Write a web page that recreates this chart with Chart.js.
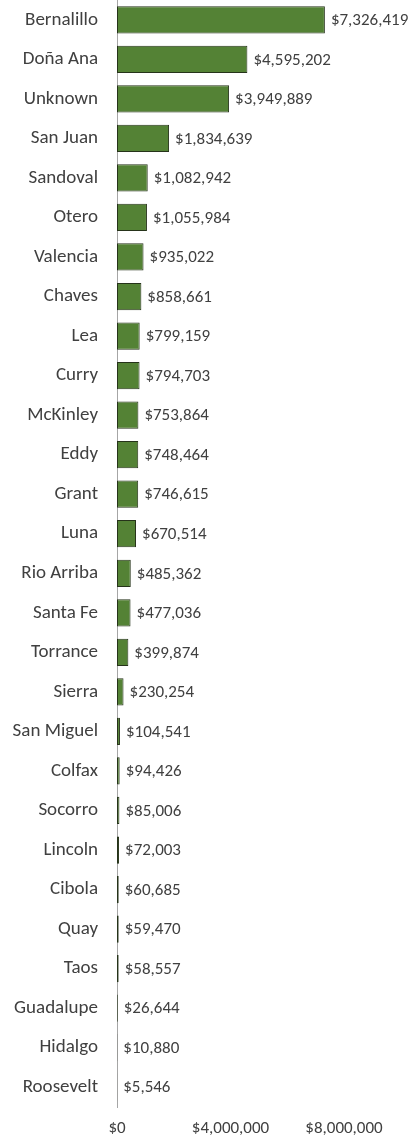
<!DOCTYPE html>
<html>
<head>
<meta charset="utf-8">
<script src="https://cdn.jsdelivr.net/npm/chart.js@4"></script>
<style>
  html, body { margin: 0; padding: 0; background: #ffffff; }
  #wrap { width: 416px; height: 1137px; }
</style>
</head>
<body>
<div id="wrap"><canvas id="c" width="416" height="1137"></canvas></div>
<script>
// Counties and the amount for each
const counties = [
  "Bernalillo", "Doña Ana", "Unknown", "San Juan", "Sandoval", "Otero", "Valencia",
  "Chaves", "Lea", "Curry", "McKinley", "Eddy", "Grant", "Luna", "Rio Arriba",
  "Santa Fe", "Torrance", "Sierra", "San Miguel", "Colfax", "Socorro", "Lincoln",
  "Cibola", "Quay", "Taos", "Guadalupe", "Hidalgo", "Roosevelt"
];
const amounts = [
  7326419, 4595202, 3949889, 1834639, 1082942, 1055984, 935022,
  858661, 799159, 794703, 753864, 748464, 746615, 670514, 485362,
  477036, 399874, 230254, 104541, 94426, 85006, 72003,
  60685, 59470, 58557, 26644, 10880, 5546
];
const axisTicks = [0, 4000000, 8000000];

const FONT = "Carlito, Lato, 'Liberation Sans', sans-serif";
const money = v => "$" + Number(v).toLocaleString("en-US");

// Writes each bar's amount just past its end
const valueLabels = {
  id: "valueLabels",
  afterDatasetsDraw(chart) {
    const ctx = chart.ctx;
    const meta = chart.getDatasetMeta(0);
    ctx.save();
    ctx.font = "17px " + FONT;
    ctx.fillStyle = "#404040";
    ctx.textAlign = "left";
    ctx.textBaseline = "middle";
    meta.data.forEach((bar, i) => {
      ctx.fillText(money(amounts[i]), bar.x + 6, bar.y + 1);
    });
    ctx.restore();
  }
};

new Chart(document.getElementById("c"), {
  type: "bar",
  data: {
    labels: counties,
    datasets: [{
      data: amounts,
      backgroundColor: "#548235",
      borderColor: "#26331a",
      borderWidth: 1,
      borderSkipped: false,
      categoryPercentage: 1,
      barPercentage: 0.69
    }]
  },
  options: {
    indexAxis: "y",
    responsive: false,
    animation: false,
    events: [],
    layout: { padding: { top: 0, right: 72, bottom: 0, left: 0 } },
    plugins: { legend: { display: false }, tooltip: { enabled: false } },
    scales: {
      x: {
        min: 0,
        max: 8000000,
        afterBuildTicks(scale) { scale.ticks = axisTicks.map(v => ({ value: v })); },
        afterFit(scale) {
          scale.height = 30;
          scale.paddingLeft = 0;
          scale.paddingRight = 0;
        },
        grid: { display: false, drawTicks: false },
        border: { display: false },
        ticks: {
          padding: 12,
          color: "#404040",
          font: { family: FONT, size: 17 },
          maxRotation: 0,
          callback: v => money(v)
        }
      },
      y: {
        afterFit(scale) {
          scale.width = 117;
          scale.paddingTop = 0;
          scale.paddingBottom = 0;
        },
        grid: { display: false, drawTicks: false },
        border: { display: true, color: "#a6a6a6", width: 1 },
        ticks: {
          padding: 19,
          color: "#404040",
          font: { family: FONT, size: 19 }
        }
      }
    }
  },
  plugins: [valueLabels]
});
</script>
</body>
</html>
